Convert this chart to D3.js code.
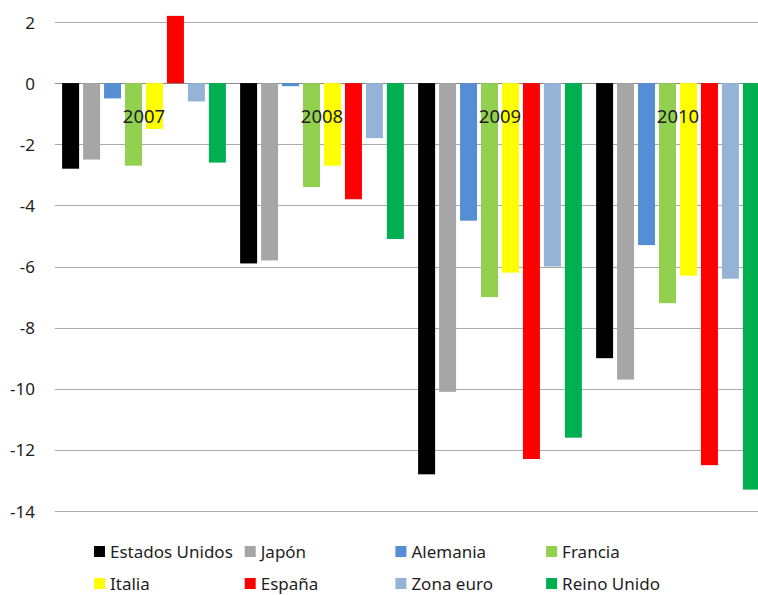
<!DOCTYPE html>
<html>
<head>
<meta charset="utf-8">
<script src="https://cdn.jsdelivr.net/npm/d3@7/dist/d3.min.js"></script>
<style>
  html, body { margin: 0; padding: 0; background: #fff; }
  svg { display: block; }
  text { font-family: "Noto Sans", "Open Sans", sans-serif; fill: #1e1e1e; }
</style>
</head>
<body>
<svg id="chart" width="758" height="595"></svg>
<script>
// Saldo presupuestario (% del PIB) por país y año
const years = ["2007", "2008", "2009", "2010"];
const countries = ["Estados Unidos", "Japón", "Alemania", "Francia", "Italia", "España", "Zona euro", "Reino Unido"];
const colors = ["#000000", "#A6A6A6", "#558ED5", "#92D050", "#FFFF00", "#FF0000", "#95B3D7", "#00B050"];

// one array per country, values for 2007..2010
const estadosUnidos = [-2.8, -5.9, -12.8, -9.0];
const japon         = [-2.5, -5.8, -10.1, -9.7];
const alemania      = [-0.5, -0.1, -4.5, -5.3];
const francia       = [-2.7, -3.4, -7.0, -7.2];
const italia        = [-1.5, -2.7, -6.2, -6.3];
const espana        = [2.2, -3.8, -12.3, -12.5];
const zonaEuro      = [-0.6, -1.8, -6.0, -6.4];
const reinoUnido    = [-2.6, -5.1, -11.6, -13.3];

const series = [estadosUnidos, japon, alemania, francia, italia, espana, zonaEuro, reinoUnido];
const yTicks = [2, 0, -2, -4, -6, -8, -10, -12, -14];

const svg = d3.select("#chart");
const plotLeft = 55, plotRight = 758;

const y = d3.scaleLinear().domain([-14, 2]).range([511, 22]);

// group bands run past the right edge of the canvas (last bar is clipped)
const x0 = d3.scaleBand().domain(years).range([55, 767]).paddingInner(0.08).paddingOuter(0.04);
const x1 = d3.scaleBand().domain(countries).range([0, x0.bandwidth()]).paddingInner(0.19).paddingOuter(0);

// horizontal gridlines
svg.append("g").selectAll("line").data(yTicks).join("line")
  .attr("x1", plotLeft).attr("x2", plotRight)
  .attr("y1", d => Math.round(y(d)) + 0.5).attr("y2", d => Math.round(y(d)) + 0.5)
  .attr("stroke", d => d === 0 ? "#8c8c8c" : "#ababab")
  .attr("stroke-width", 1.2);

// y tick labels
svg.append("g").selectAll("text").data(yTicks).join("text")
  .attr("x", 35).attr("y", d => y(d))
  .attr("text-anchor", "end").attr("dominant-baseline", "central")
  .style("font-size", "17px")
  .text(d => d);

// bars
const groups = svg.append("g").selectAll("g").data(years).join("g")
  .attr("transform", d => `translate(${x0(d)},0)`);

groups.selectAll("rect")
  .data((yr, yi) => countries.map((c, ci) => ({ country: c, value: series[ci][yi], color: colors[ci] })))
  .join("rect")
  .attr("x", d => x1(d.country))
  .attr("width", x1.bandwidth())
  .attr("y", d => y(Math.max(0, d.value)))
  .attr("height", d => Math.abs(y(d.value) - y(0)))
  .attr("fill", d => d.color);

// category labels next to the zero axis
svg.append("g").selectAll("text").data(years).join("text")
  .attr("x", d => x0(d) + x0.bandwidth() / 2)
  .attr("y", y(0) + 32)
  .attr("text-anchor", "middle").attr("dominant-baseline", "central")
  .style("font-size", "18.5px")
  .text(d => d);

// legend: 4 columns x 2 rows
const legend = svg.append("g").selectAll("g").data(countries).join("g")
  .attr("transform", (d, i) => `translate(${94 + (i % 4) * 150.7},${i < 4 ? 551 : 583})`);

legend.append("rect")
  .attr("x", 0).attr("y", -5).attr("width", 11).attr("height", 11)
  .attr("fill", (d, i) => colors[i]);

legend.append("text")
  .attr("x", 16).attr("y", 0)
  .attr("dominant-baseline", "central")
  .style("font-size", "17px")
  .text(d => d);
</script>
</body>
</html>
